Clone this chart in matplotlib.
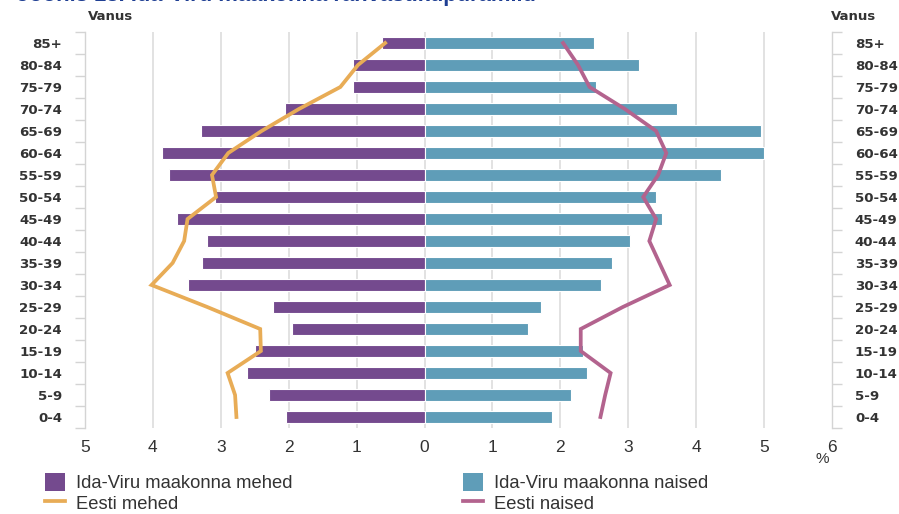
import matplotlib
matplotlib.use("Agg")
import matplotlib.pyplot as plt
from matplotlib import font_manager
from matplotlib.ticker import FixedLocator, FixedFormatter
from matplotlib.patches import Patch
from matplotlib.lines import Line2D
import numpy as np

# Age groups, youngest first (bottom of the pyramid)
age_groups = ["0-4", "5-9", "10-14", "15-19", "20-24", "25-29", "30-34", "35-39",
              "40-44", "45-49", "50-54", "55-59", "60-64", "65-69", "70-74",
              "75-79", "80-84", "85+"]

# Share of population, % (Ida-Viru county)
idaviru_men = [2.04, 2.29, 2.62, 2.50, 1.95, 2.23, 3.48, 3.27, 3.20, 3.64,
               3.09, 3.76, 3.87, 3.29, 2.06, 1.05, 1.05, 0.62]
idaviru_women = [1.88, 2.16, 2.39, 2.34, 1.53, 1.71, 2.60, 2.76, 3.02, 3.49,
                 3.41, 4.37, 5.00, 4.95, 3.72, 2.53, 3.16, 2.50]

# Share of population, % (Estonia total)
estonia_men = [2.77, 2.79, 2.90, 2.41, 2.42, 3.20, 4.02, 3.71, 3.54, 3.49,
               3.07, 3.13, 2.89, 2.40, 1.85, 1.24, 0.98, 0.58]
estonia_women = [2.59, 2.66, 2.74, 2.30, 2.30, 2.92, 3.61, 3.46, 3.31, 3.41,
                 3.22, 3.44, 3.56, 3.41, 2.95, 2.43, 2.26, 2.04]

x_ticks = [-5, -4, -3, -2, -1, 0, 1, 2, 3, 4, 5, 6]
x_tick_labels = ["5", "4", "3", "2", "1", "0", "1", "2", "3", "4", "5", "6"]

legend_labels = ["Ida-Viru maakonna mehed", "Eesti mehed",
                 "Ida-Viru maakonna naised", "Eesti naised"]

title_text = "Joonis 18. Ida-Viru maakonna rahvastikupüramiid"

PURPLE = "#744a8e"
TEAL = "#5f9db8"
ORANGE = "#e8ac56"
PINK = "#b3638e"
GRID = "#dddddd"
TEXT = "#333333"

installed = {f.name for f in font_manager.fontManager.ttflist}
narrow = "Liberation Sans Narrow" if "Liberation Sans Narrow" in installed else "Liberation Sans"

fig = plt.figure(figsize=(8.99, 5.14), dpi=100)
ax = fig.add_axes([85 / 899, 1 - 428 / 514, (832 - 85) / 899, (428 - 32) / 514])

y = np.arange(len(age_groups))
men_neg = [-v for v in idaviru_men]
est_men_neg = [-v for v in estonia_men]

ax.barh(y, men_neg, height=0.58, color=PURPLE, edgecolor="white", linewidth=0.8, zorder=2)
ax.barh(y, idaviru_women, height=0.58, color=TEAL, edgecolor="white", linewidth=0.8, zorder=2)
ax.plot(est_men_neg, y, color=ORANGE, lw=2.7, solid_joinstyle="miter", zorder=3)
ax.plot(estonia_women, y, color=PINK, lw=2.7, solid_joinstyle="miter", zorder=3)

ax.set_xlim(-5, 6)
ax.set_ylim(-0.5, len(age_groups) - 0.5)

# vertical grid
for gx in range(-4, 6):
    ax.axvline(gx, color=GRID, lw=1.2, zorder=1)

for side in ("top", "bottom"):
    ax.spines[side].set_visible(False)
for side in ("left", "right"):
    ax.spines[side].set_color("#d4d4d4")
    ax.spines[side].set_linewidth(1.0)

# x axis
ax.xaxis.set_major_locator(FixedLocator(x_ticks))
ax.xaxis.set_major_formatter(FixedFormatter(x_tick_labels))
ax.tick_params(axis="x", length=0, pad=8.5, labelsize=12.5, labelcolor=TEXT)
for lab in ax.get_xticklabels():
    lab.set_fontfamily(narrow)

# y axis on both sides, labels at centres, tick marks at boundaries
ax.set_yticks(y)
ax.set_yticklabels(age_groups)
ax.set_yticks(np.arange(-0.5, len(age_groups)), minor=True)
ax.tick_params(axis="y", which="major", length=0, pad=16.5, labelsize=9.6,
               labelcolor=TEXT, left=True, right=True, labelleft=True, labelright=True)
ax.tick_params(axis="y", which="minor", length=7, width=1.0, color="#d4d4d4",
               direction="out", left=True, right=True)
for lab in ax.get_yticklabels():
    lab.set_fontfamily("DejaVu Sans")
    lab.set_fontweight("bold")

# axis captions
fig.text(111 / 899, 1 - 16 / 514, "Vanus", ha="center", va="center", fontsize=9.5,
         fontweight="bold", color=TEXT, family="DejaVu Sans")
fig.text(854 / 899, 1 - 16 / 514, "Vanus", ha="center", va="center", fontsize=9.5,
         fontweight="bold", color=TEXT, family="DejaVu Sans")
fig.text(822 / 899, 1 - 459 / 514, "%", ha="center", va="center", fontsize=11,
         color=TEXT, family=narrow)

# heading, mostly above the top edge
fig.text(17 / 899, 1 - 1.0 / 514, title_text, ha="left", va="baseline", fontsize=15.8,
         fontweight="bold", color="#1f3f93", family="Liberation Sans")

# legend
handles = [
    Patch(facecolor=PURPLE, edgecolor="none"),
    Line2D([0], [0], color=ORANGE, lw=2.7),
    Patch(facecolor=TEAL, edgecolor="none"),
    Line2D([0], [0], color=PINK, lw=2.7),
]
leg = fig.legend(handles, legend_labels, ncol=2, loc="upper left",
                 bbox_to_anchor=(45 / 899, 1 - 473 / 514), frameon=False,
                 prop={"family": "Liberation Sans", "size": 13.2},
                 handlelength=1.1, handleheight=1.1, handletextpad=0.6,
                 columnspacing=9.3, labelspacing=0.1, borderaxespad=0,
                 borderpad=0)
for t in leg.get_texts():
    t.set_color(TEXT)

fig.savefig("out.png", dpi=100)
